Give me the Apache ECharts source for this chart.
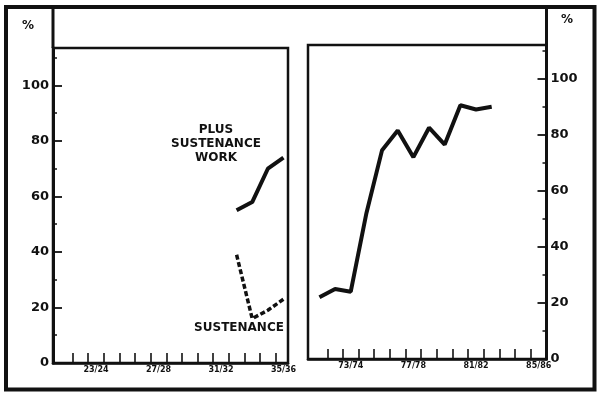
<!DOCTYPE html>
<html>
<head>
<meta charset="utf-8">
<script src="https://cdn.jsdelivr.net/npm/echarts@6/dist/echarts.min.js"></script>
<style>html,body{margin:0;padding:0;background:#fff;}#c{width:600px;height:397px;}</style>
</head>
<body>
<div id="c"></div>
<script>
// ---- data ----
const leftYears = [32, 33, 34, 35];            // 32/33 .. 35/36
const plusSustenanceWork = [55, 58, 70, 74];
const sustenance = [39, 16, 19, 23];
const rightYears = [71, 72, 73, 74, 75, 76, 77, 78, 79, 80, 81, 82];
const rightValues = [22, 25, 24, 52, 74.5, 81.5, 72, 82.5, 76.5, 90.5, 89, 90];
const leftTickLabels = [23, 27, 31, 35];
const rightTickLabels = [73, 77, 81, 85];
const yLabels = [0, 20, 40, 60, 80, 100];

const INK = '#111';
const FONT = 'DejaVu Sans';
const pairs = (xs, ys) => xs.map((x, i) => [x, ys[i]]);
const range = (a, b) => { const r = []; for (let v = a; v <= b + 1e-9; v += 1) r.push(v); return r; };
const fy = v => { const a = v % 100, b = (v + 1) % 100; return String(a).padStart(2,'0') + '/' + String(b).padStart(2,'0'); };

function xAxis(grid, min, max, ticks, labels) {
  return {
    type: 'value', gridIndex: grid, min: min, max: max,
    axisLine: { show: true, lineStyle: { color: INK, width: 2.5 } },
    axisTick: { show: true, inside: true, length: 10, customValues: ticks, lineStyle: { color: INK, width: 1.6 } },
    axisLabel: { show: true, customValues: labels, formatter: v => fy(Math.round(v)), color: INK, fontFamily: FONT, fontWeight: 'bold', fontSize: 8, margin: 3 },
    splitLine: { show: false }
  };
}
function yMajor(grid, pos, max) {
  return {
    type: 'value', gridIndex: grid, position: pos, offset: 0, min: 0, max: max,
    axisLine: { show: true, lineStyle: { color: INK, width: 3 } },
    axisTick: { show: true, inside: true, length: 9, customValues: yLabels, lineStyle: { color: INK, width: 1.8 } },
    axisLabel: { show: true, customValues: yLabels, color: INK, fontFamily: FONT, fontWeight: 'bold', fontSize: 13, margin: 4 },
    splitLine: { show: false }
  };
}
function yMinor(grid, pos, max) {
  return {
    type: 'value', gridIndex: grid, position: pos, offset: 0, min: 0, max: max,
    axisLine: { show: false },
    axisTick: { show: true, inside: true, length: 4, customValues: [10, 30, 50, 70, 90, 110], lineStyle: { color: INK, width: 1.5 } },
    axisLabel: { show: false },
    splitLine: { show: false }
  };
}

const chart = echarts.init(document.getElementById('c'), null, { renderer: 'canvas' });
chart.setOption({
  backgroundColor: '#fff',
  animation: false,
  grid: [
    { left: 53, right: 312, top: 48, bottom: 34, show: true, borderColor: INK, borderWidth: 2.5 },
    { left: 308, right: 53.5, top: 45, bottom: 38, show: true, borderColor: INK, borderWidth: 2.5 }
  ],
  xAxis: [
    xAxis(0, 20.25, 35.29, range(21.5, 34.5), leftTickLabels),
    xAxis(1, 70.27, 85.5, range(71.5, 84.5), rightTickLabels)
  ],
  yAxis: [
    yMajor(0, 'left', 113.5), yMinor(0, 'left', 113.5),
    yMajor(1, 'right', 112), yMinor(1, 'right', 112)
  ],
  series: [
    { type: 'line', xAxisIndex: 0, yAxisIndex: 0, data: pairs(leftYears, plusSustenanceWork), symbol: 'none',
      lineStyle: { color: INK, width: 4 } },
    { type: 'line', xAxisIndex: 0, yAxisIndex: 0, data: pairs(leftYears, sustenance), symbol: 'none',
      lineStyle: { color: INK, width: 3.5, type: [5, 2.5] } },
    { type: 'line', xAxisIndex: 1, yAxisIndex: 2, data: pairs(rightYears, rightValues), symbol: 'none',
      lineStyle: { color: INK, width: 4 } }
  ],
  graphic: [
    { type: 'rect', shape: { x: 6, y: 7, width: 588.5, height: 382.5 }, style: { fill: null, stroke: INK, lineWidth: 4 } },
    { type: 'line', shape: { x1: 53, y1: 7, x2: 53, y2: 48 }, style: { stroke: INK, lineWidth: 3 } },
    { type: 'line', shape: { x1: 546.5, y1: 7, x2: 546.5, y2: 45 }, style: { stroke: INK, lineWidth: 3 } },
    { type: 'text', x: 28, y: 26, style: { text: '%', fill: INK, font: 'bold 12px "DejaVu Sans"', textAlign: 'center', textVerticalAlign: 'middle' } },
    { type: 'text', x: 567, y: 20, style: { text: '%', fill: INK, font: 'bold 12px "DejaVu Sans"', textAlign: 'center', textVerticalAlign: 'middle' } },
    { type: 'text', x: 216, y: 123, style: { text: 'PLUS\nSUSTENANCE\nWORK', fill: INK, font: 'bold 12px "DejaVu Sans"', lineHeight: 14, textAlign: 'center', textVerticalAlign: 'top' } },
    { type: 'text', x: 239, y: 328, style: { text: 'SUSTENANCE', fill: INK, font: 'bold 12px "DejaVu Sans"', textAlign: 'center', textVerticalAlign: 'middle' } }
  ]
});
</script>
</body>
</html>
